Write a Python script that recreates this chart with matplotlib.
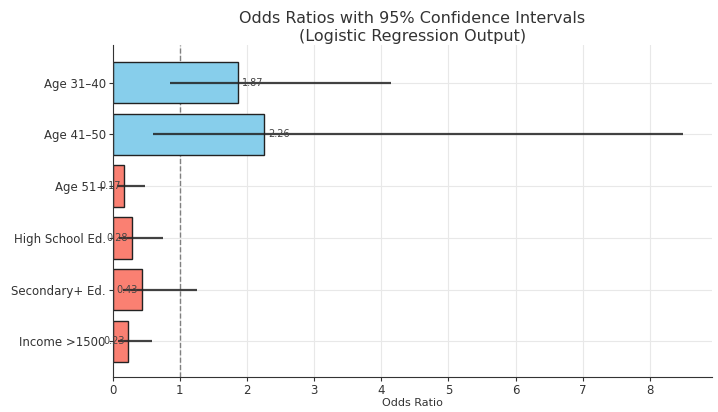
import matplotlib
matplotlib.use("Agg")
import matplotlib.pyplot as plt
import numpy as np

labels = ["Age 31\u201340", "Age 41\u201350", "Age 51+", "High School Ed.", "Secondary+ Ed.", "Income >1500"]
odds = [1.87, 2.26, 0.17, 0.28, 0.43, 0.23]
ci_low = [0.85, 0.60, 0.06, 0.10, 0.15, 0.08]
ci_high = [4.15, 8.50, 0.48, 0.75, 1.25, 0.59]

colors = ["skyblue" if v > 1 else "salmon" for v in odds]

fig, ax = plt.subplots(figsize=(7.18, 4.12), dpi=100)
y = np.arange(len(labels))
ax.barh(y, odds, color=colors, edgecolor="#222222", linewidth=1.0, height=0.8, zorder=2)
err = [np.array(odds) - np.array(ci_low), np.array(ci_high) - np.array(odds)]
ax.errorbar(odds, y, xerr=err, fmt="none", ecolor="#222222", elinewidth=1.6, capsize=0, alpha=0.85, zorder=3)
ax.axvline(1, color="gray", linestyle="--", linewidth=1, zorder=1)
for yi, v in zip(y, odds):
    if v > 1:
        ax.text(v + 0.05, yi, f"{v:.2f}", va="center", ha="left", fontsize=7, color="#444444", zorder=4)
    else:
        ax.text(v - 0.05, yi, f"{v:.2f}", va="center", ha="right", fontsize=7, color="#444444", zorder=4)
ax.set_yticks(y)
ax.set_yticklabels(labels)
ax.invert_yaxis()
ax.set_xlim(0, 8.93)
ax.set_ylim(5.69, -0.73)
ax.set_xlabel("Odds Ratio", fontsize=8, color="#333333", labelpad=1)
ax.set_title("Odds Ratios with 95% Confidence Intervals\n(Logistic Regression Output)", fontsize=11.5,
             color="#333333", pad=3)
ax.grid(True, color="#e8e8e8", linewidth=0.8, zorder=0)
ax.set_axisbelow(True)
for s in ["top", "right"]:
    ax.spines[s].set_visible(False)
for s in ["left", "bottom"]:
    ax.spines[s].set_color("#333333")
ax.tick_params(axis="both", labelsize=8.5, colors="#333333", length=3, pad=2)
fig.subplots_adjust(left=0.157, right=0.992, top=0.891, bottom=0.085)
fig.savefig("out.png", dpi=100)
